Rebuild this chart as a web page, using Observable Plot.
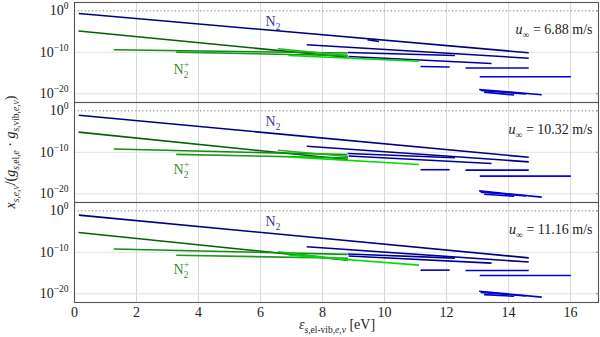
<!DOCTYPE html>
<html>
<head>
<meta charset="utf-8">
<script src="https://cdn.jsdelivr.net/npm/d3@7"></script>
<script src="https://cdn.jsdelivr.net/npm/@observablehq/plot@0.6"></script>
<style>
  body { margin: 0; background: #fff; }
</style>
</head>
<body>
<div id="chart"></div>
<script>
// ---- data ----
const panels = ["6.88", "10.32", "11.16"];           // u_inf [m/s] for each panel
const xTicks = [0, 2, 4, 6, 8, 10, 12, 14, 16];
const yTicks = [1e0, 1e-10, 1e-20];
const yTickText = ["10^0", "10^-10", "10^-20"];

// one entry per electronic-state segment
const segState = ["N2-1", "N2-2", "N2-3", "N2-4", "N2-5", "N2-6", "N2-7", "N2-8", "N2-9", "N2-10", "N2-11",
                  "N2+-1", "N2+-2", "N2+-3", "N2+-4", "N2+-5"];
const segX1 = [0.14, 9.45, 7.49, 8.81, 8.84, 11.16, 12.61, 13.07, 13.05, 13.21, 13.10, 0.13, 1.27, 3.28, 6.56, 6.90];
const segX2 = [14.65, 9.82, 14.65, 12.27, 13.45, 12.10, 14.65, 16.01, 15.07, 14.18, 14.56, 8.81, 8.80, 8.82, 8.82, 11.11];
// log10 of x/(g g) at segment start / end, per panel
const logStartP1 = [-0.65, -6.99, -8.19, -10.05, -11.0, -13.42, -13.78, -15.9, -18.96, -19.6, -19.2, -4.87, -9.40, -9.95, -9.16, -10.79];
const logEndP1   = [-10.12, -7.40, -11.42, -10.77, -12.7, -13.54, -13.78, -15.9, -20.24, -20.3, -20.05, -11.18, -10.17, -10.8, -10.77, -12.14];
const logStartP2 = [-1.06, null, -8.56, -10.3, -10.9, -14.2, -14.3, -15.75, -19.3, -20.1, -19.6, -5.13, -9.2, -10.5, -9.5, -11.1];
const logEndP2   = [-11.2, null, -12.3, -11.3, -12.7, -14.2, -14.3, -15.75, -20.8, -20.6, -20.5, -11.75, -10.57, -11.35, -11.0, -12.95];
const logStartP3 = [-1.05, null, -8.67, -10.4, -10.9, -14.3, -14.4, -15.6, -19.4, -20.2, -19.7, -5.24, -9.2, -10.7, -9.86, -10.65];
const logEndP3   = [-11.35, null, -12.35, -11.4, -12.6, -14.3, -14.4, -15.6, -20.8, -20.6, -20.5, -11.9, -10.5, -11.45, -11.83, -13.1];

const speciesNames = ["N2", "N2+"];
const speciesX = [6.4, 3.45];
const speciesLog = [-2.65, -14.2];

// ---- styles ----
const FONT = "'Liberation Serif', 'DejaVu Serif', serif";
const stateColors = ["#000080", "#000080", "#00008c", "#000096", "#0000a0", "#0000c8", "#0000d0", "#0000e0", "#0000d4", "#0000d4", "#0000d4",
                     "#006200", "#128c12", "#1a9a1a", "#22b822", "#00dd00"];
const speciesColors = ["#3a3a96", "#2f8f2f"];

// ---- table ----
const starts = [logStartP1, logStartP2, logStartP3];
const ends = [logEndP1, logEndP2, logEndP3];
const segs = [];
panels.forEach((p, k) => {
  segState.forEach((s, i) => {
    if (starts[k][i] == null) return;
    segs.push({panel: p, state: s, x1: segX1[i], x2: segX2[i], y1: 10 ** starts[k][i], y2: 10 ** ends[k][i]});
  });
});
const labels = [];
panels.forEach(p => speciesNames.forEach((n, i) => labels.push({panel: p, name: n, x: speciesX[i], y: 10 ** speciesLog[i], c: speciesColors[i]})));

const plot = Plot.plot({
  width: 600,
  height: 337,
  marginLeft: 74,
  marginRight: 2,
  marginTop: 2,
  marginBottom: 35,
  style: {background: "white", color: "#222"},
  x: {domain: [0, 16.9]},
  y: {type: "log", domain: [10 ** -22.1, 10 ** 2]},
  fy: {domain: panels, padding: 0, axis: null, label: null},
  color: {domain: segState, range: stateColors},
  marks: [
    Plot.gridX(xTicks, {stroke: "#d8d8d8", strokeOpacity: 1}),
    Plot.gridY([1e-10, 1e-20], {stroke: "#e2e2e2", strokeOpacity: 1}),
    Plot.ruleY([1], {stroke: "#777", strokeDasharray: "1.2,2.4"}),
    Plot.link(segs, {x1: "x1", y1: "y1", x2: "x2", y2: "y2", fy: "panel", stroke: "state", strokeWidth: 1.6, curve: "linear"}),
    Plot.text(labels, {x: "x", y: "y", fy: "panel", text: "name", fill: "c"}),
    Plot.text(panels, {fy: d => d, text: d => d, frameAnchor: "top-right", dx: -6, dy: 22, textAnchor: "end", fill: "#222"}),
    Plot.frame({stroke: "#555", strokeWidth: 1.1}),
    Plot.axisY(yTicks, {anchor: "right", tickSize: -3, tickFormat: () => "", label: null, stroke: "#888"}),
    Plot.axisY(yTicks, {tickSize: 0, tickPadding: 6, tickFormat: d => yTickText[yTicks.indexOf(d)], label: null}),
    Plot.axisX(xTicks, {tickSize: 0, tickPadding: 5, label: null})
  ]
});

// ---- rich text helper (subscripts / superscripts / italics) ----
function rich(textEl, runs) {
  const t = d3.select(textEl);
  t.text(null);
  let shift = 0;
  for (const r of runs) {
    const target = r.sub ? 3.5 : r.sup ? -6 : 0;
    const sp = t.append("tspan").text(r.t);
    if (target !== shift) { sp.attr("dy", target - shift); shift = target; }
    if (r.sub || r.sup) sp.style("font-size", "9.5px");
    if (r.it) sp.attr("font-style", "italic");
    if (r.dx) sp.attr("dx", r.dx);
  }
}

const svg = d3.select(plot);
svg.selectAll("text").each(function() {
  const s = this.textContent;
  if (yTickText.includes(s)) {
    const [b, e] = s.split("^");
    rich(this, [{t: b}, {t: e.replace("-", "\u2212"), sup: 1}]);
  } else if (panels.includes(s)) {
    rich(this, [{t: "u", it: 1}, {t: "\u221E", sub: 1}, {t: " = " + s + " m/s"}]);
  } else if (s === "N2+") {
    rich(this, [{t: "N"}, {t: "2", sub: 1}, {t: "+", sup: 1, dx: -4.5}]);
  } else if (s === "N2") {
    rich(this, [{t: "N"}, {t: "2", sub: 1}]);
  }
});

// axis titles
const xl = svg.append("text").attr("x", 337).attr("y", 329).attr("text-anchor", "middle").attr("fill", "#222");
rich(xl.node(), [{t: "\u03B5", it: 1}, {t: "s,", sub: 1, it: 1}, {t: "el-vib,", sub: 1}, {t: "e,v", sub: 1, it: 1}, {t: " [eV]"}]);
const yl = svg.append("text").attr("transform", "translate(15,152) rotate(-90)").attr("text-anchor", "middle").attr("fill", "#222");
rich(yl.node(), [{t: "x", it: 1}, {t: "s,e,v", sub: 1, it: 1}, {t: "/("}, {t: "g", it: 1}, {t: "s,", sub: 1, it: 1}, {t: "el,", sub: 1}, {t: "e", sub: 1, it: 1},
  {t: " \u00B7 "}, {t: "g", it: 1}, {t: "s,", sub: 1, it: 1}, {t: "vib,", sub: 1}, {t: "e,v", sub: 1, it: 1}, {t: ")"}]);

// force serif font and size on every text
svg.attr("font-family", FONT).style("font-family", FONT, "important");
svg.selectAll("g").attr("font-family", null);
svg.selectAll("text").style("font-family", FONT, "important").style("font-size", "14px", "important");
svg.selectAll("tspan").each(function() {
  if (!this.style.fontSize) d3.select(this).style("font-size", "14px");
});

document.getElementById("chart").appendChild(plot);
</script>
</body>
</html>
